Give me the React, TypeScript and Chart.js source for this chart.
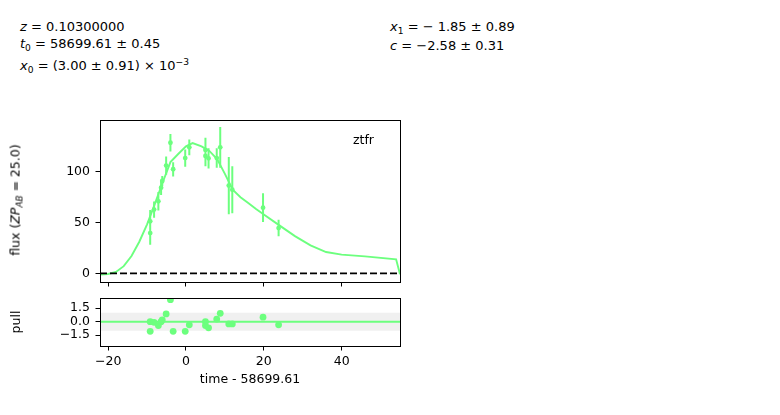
import React, { useEffect, useRef } from "react";
import { Chart, registerables } from "chart.js";

Chart.register(...registerables);

// ---------- data ----------
const bandName = "ztfr";

const obsTime = [-9.2, -9.2, -8.2, -7.1, -6.4, -6.1, -5.1, -4.0, -3.3, -0.2, 0.85, 5.0, 5.0, 5.8, 7.9, 8.8, 11.0, 11.9, 19.8, 23.8];
const obsFlux = [39.5, 51, 62.5, 70.6, 84, 90.5, 105.6, 128, 102, 113, 123.5, 121, 115, 112.7, 113, 123.5, 86, 82, 64.4, 44.4];
const obsErr = [11.4, 11, 8, 9, 7.3, 5, 9, 8.6, 7, 8.5, 7.8, 12, 10, 10, 9.6, 20, 28, 23, 14, 8];
const pullValue = [-1.07, 0.0, -0.07, -0.43, 0.0, 0.21, 0.86, 2.43, -1.07, -1.07, -0.35, 0.0, -0.43, -0.68, 0.29, 0.93, -0.25, -0.25, 0.5, -0.35];

const modelTime = [-22.1, -20, -18, -16, -14, -12, -10, -8, -6, -4, -2, 0, 1.7, 4, 6, 8, 10, 12, 14, 16, 18, 20, 24, 28, 32, 36, 40, 46, 54, 55];
const modelFlux = [-1.2, -0.6, 1.4, 7, 17, 31, 48, 68, 89, 109, 117, 124.5, 127.7, 124.5, 120, 112, 97.5, 82, 74.6, 69, 63, 57.7, 47, 36.5, 27.4, 20.9, 18.3, 16.6, 13.7, -1];

const xTicks = [-20, 0, 20, 40];
const xTickLabels = ["\u221220", "0", "20", "40"];
const fluxTicks = [0, 50, 100];
const fluxTickLabels = ["0", "50", "100"];
const pullTicks = [-1.5, 0, 1.5];
const pullTickLabels = ["\u22121.5", "0.0", "1.5"];

const xMin = -22.1;
const xMax = 55.0;
const fluxMin = -8.5;
const fluxMax = 150.3;
const pullMin = -2.69;
const pullMax = 2.62;
const pullBand = 1;

const xTitle = "time - 58699.61";
const pullTitle = "pull";

// ---------- styles ----------
const FONT = "'DejaVu Sans', 'Liberation Sans', sans-serif";
const GREEN = "rgb(108,255,126)";

const fixedTicks = (values: number[]) => (axis: any) => {
  axis.ticks = values.map((v) => ({ value: v }));
};
const labelFor = (values: number[], labels: string[]) => (v: any) => {
  const i = values.indexOf(Number(v));
  return i >= 0 ? labels[i] : "";
};

const boxPlugin = {
  id: "box",
  afterDraw(chart: any) {
    const { left, top, right, bottom } = chart.chartArea;
    const ctx = chart.ctx;
    ctx.save();
    ctx.strokeStyle = "#000";
    ctx.lineWidth = 1;
    const l = Math.round(left) + 0.5;
    const t = Math.round(top) + 0.5;
    const r = Math.round(right) + 0.5;
    const b = Math.round(bottom) + 0.5;
    ctx.strokeRect(l, t, r - l, b - t);
    ctx.restore();
  },
};

const gridOpts = {
  display: true,
  drawOnChartArea: false,
  drawTicks: true,
  tickLength: 4.5,
  color: "#000",
  lineWidth: 1,
};

export default function App() {
  const mainRef = useRef<HTMLCanvasElement>(null);
  const pullRef = useRef<HTMLCanvasElement>(null);

  useEffect(() => {
    Chart.defaults.font.family = FONT;
    Chart.defaults.font.size = 12.5;
    Chart.defaults.color = "#000";

    const errData: any[] = [];
    obsTime.forEach((t, i) => {
      errData.push({ x: t, y: obsFlux[i] - obsErr[i] });
      errData.push({ x: t, y: obsFlux[i] + obsErr[i] });
      errData.push({ x: t, y: null });
    });

    const main = new Chart(mainRef.current as HTMLCanvasElement, {
      type: "line",
      data: {
        datasets: [
          {
            data: [
              { x: xMin, y: 0 },
              { x: xMax, y: 0 },
            ],
            borderColor: "#000",
            borderWidth: 1.9,
            borderDash: [7, 3],
            pointRadius: 0,
            order: 0,
          },
          {
            data: obsTime.map((t, i) => ({ x: t, y: obsFlux[i] })),
            showLine: false,
            pointRadius: 2.4,
            pointBorderWidth: 0,
            pointBackgroundColor: GREEN,
            borderColor: GREEN,
            order: 1,
          },
          {
            data: errData,
            borderColor: GREEN,
            borderWidth: 2,
            pointRadius: 0,
            spanGaps: false,
            order: 2,
          },
          {
            data: modelTime.map((t, i) => ({ x: t, y: modelFlux[i] })),
            borderColor: GREEN,
            borderWidth: 1.9,
            pointRadius: 0,
            order: 3,
            clip: 0,
          },
        ] as any,
      },
      options: {
        animation: false,
        responsive: false,
        events: [],
        layout: { padding: { top: 20, right: 20, left: 0, bottom: 0 } },
        plugins: { legend: { display: false }, tooltip: { enabled: false } },
        scales: {
          x: {
            type: "linear",
            min: xMin,
            max: xMax,
            afterBuildTicks: fixedTicks(xTicks),
            afterFit: (s: any) => {
              s.height = 18;
            },
            ticks: { display: false, autoSkip: false },
            grid: gridOpts,
            border: { display: false },
          },
          y: {
            type: "linear",
            min: fluxMin,
            max: fluxMax,
            afterBuildTicks: fixedTicks(fluxTicks),
            afterFit: (s: any) => {
              s.width = 100;
            },
            ticks: {
              autoSkip: false,
              padding: 5.5,
              callback: labelFor(fluxTicks, fluxTickLabels),
              font: { size: 12.5, family: FONT },
            },
            grid: gridOpts,
            border: { display: false },
          },
        },
      } as any,
      plugins: [boxPlugin],
    });

    const pull = new Chart(pullRef.current as HTMLCanvasElement, {
      type: "line",
      data: {
        datasets: [
          {
            data: obsTime.map((t, i) => ({ x: t, y: pullValue[i] })),
            showLine: false,
            pointRadius: 3.4,
            pointBorderWidth: 0,
            pointBackgroundColor: GREEN,
            borderColor: GREEN,
            order: 1,
            clip: 0,
          },
          {
            data: [
              { x: xMin, y: 0 },
              { x: xMax, y: 0 },
            ],
            borderColor: GREEN,
            borderWidth: 2,
            pointRadius: 0,
            order: 2,
          },
          {
            data: [
              { x: xMin, y: -pullBand },
              { x: xMax, y: -pullBand },
            ],
            borderWidth: 0,
            borderColor: "rgba(0,0,0,0)",
            backgroundColor: "#f0f0f0",
            fill: { value: pullBand },
            pointRadius: 0,
            order: 3,
          },
        ] as any,
      },
      options: {
        animation: false,
        responsive: false,
        events: [],
        layout: { padding: { top: 12, right: 20, left: 0, bottom: 0 } },
        plugins: { legend: { display: false }, tooltip: { enabled: false } },
        scales: {
          x: {
            type: "linear",
            min: xMin,
            max: xMax,
            afterBuildTicks: fixedTicks(xTicks),
            afterFit: (s: any) => {
              s.height = 44;
            },
            ticks: {
              autoSkip: false,
              maxRotation: 0,
              padding: 4,
              callback: labelFor(xTicks, xTickLabels),
              font: { size: 12.5, family: FONT },
            },
            grid: gridOpts,
            border: { display: false },
            title: {
              display: true,
              text: xTitle,
              font: { size: 12.5, family: FONT },
              padding: { top: 0, bottom: 3 },
            },
          },
          y: {
            type: "linear",
            min: pullMin,
            max: pullMax,
            afterBuildTicks: fixedTicks(pullTicks),
            afterFit: (s: any) => {
              s.width = 100;
            },
            ticks: {
              autoSkip: false,
              padding: 5.5,
              callback: labelFor(pullTicks, pullTickLabels),
              font: { size: 12.5, family: FONT },
            },
            grid: gridOpts,
            border: { display: false },
            title: {
              display: true,
              text: pullTitle,
              font: { size: 12.5, family: FONT },
              padding: { top: 9, bottom: 0 },
            },
          },
        },
      } as any,
      plugins: [boxPlugin],
    });

    return () => {
      main.destroy();
      pull.destroy();
    };
  }, []);

  const txt: React.CSSProperties = {
    position: "absolute",
    fontFamily: FONT,
    fontSize: 13,
    lineHeight: "15px",
    whiteSpace: "nowrap",
    color: "#000",
  };
  const sub: React.CSSProperties = { fontSize: "70%", position: "relative", top: 2.5, lineHeight: 0 };
  const sup: React.CSSProperties = { fontSize: "70%", position: "relative", top: -5.5, lineHeight: 0 };

  return (
    <div style={{ position: "absolute", left: 0, top: 0, width: 780, height: 415, background: "#fff", overflow: "hidden" }}>
      <div style={{ ...txt, left: 20, top: 19 }}>
        <i>z</i> = 0.10300000
      </div>
      <div style={{ ...txt, left: 20, top: 36 }}>
        <i>t</i>
        <span style={sub}>0</span> = 58699.61 ± 0.45
      </div>
      <div style={{ ...txt, left: 20, top: 58 }}>
        <i>x</i>
        <span style={sub}>0</span> = (3.00 ± 0.91) × 10<span style={sup}>−3</span>
      </div>
      <div style={{ ...txt, left: 390, top: 19 }}>
        <i>x</i>
        <span style={sub}>1</span> = − 1.85 ± 0.89
      </div>
      <div style={{ ...txt, left: 390, top: 37.5 }}>
        <i>c</i> = −2.58 ± 0.31
      </div>

      <canvas
        ref={mainRef}
        width={420}
        height={200}
        style={{ position: "absolute", left: 0, top: 100, width: 420, height: 200 }}
      />
      <canvas
        ref={pullRef}
        width={420}
        height={105}
        style={{ position: "absolute", left: 0, top: 285, width: 420, height: 105 }}
      />

      <div style={{ ...txt, fontSize: 12.5, left: 353, top: 132 }}>{bandName}</div>
      <div
        style={{
          ...txt,
          fontSize: 12.5,
          left: 15,
          top: 200,
          transform: "translate(-50%, -50%) rotate(-90deg)",
        }}
      >
        flux (<i>ZP</i>
        <i style={sub}>AB</i> = 25.0)
      </div>
    </div>
  );
}
